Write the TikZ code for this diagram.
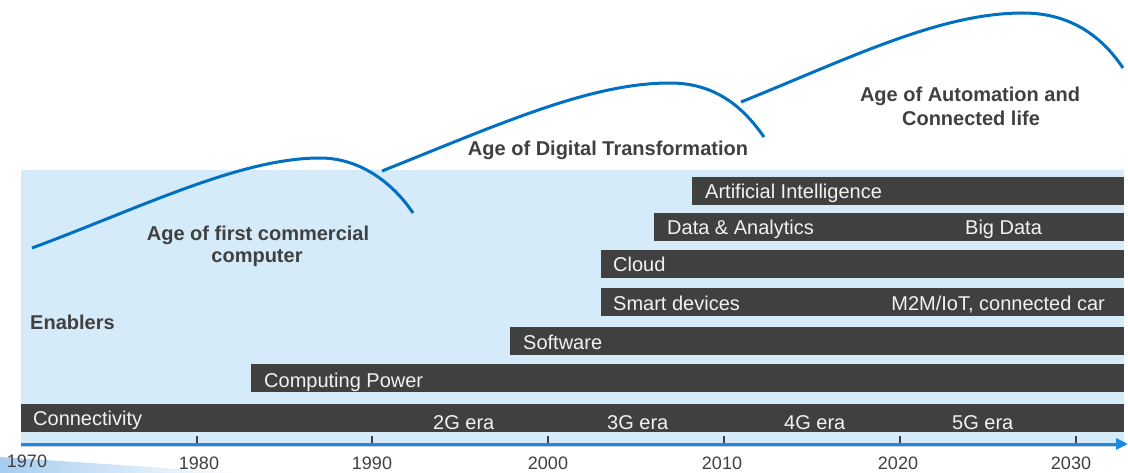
\documentclass[tikz,border=0pt]{standalone}
\usepackage{fontspec}
\setmainfont{Liberation Sans}
\usetikzlibrary{arrows.meta}
\definecolor{panelc}{HTML}{D5EBFA}
\definecolor{barc}{HTML}{404040}
\definecolor{bartxt}{HTML}{F2F2F2}
\definecolor{lblc}{HTML}{404040}
\definecolor{curvec}{HTML}{0070C0}
\definecolor{axisc}{HTML}{1A8AE0}
\definecolor{wedgec}{HTML}{A6CDF0}
\begin{document}
\begin{tikzpicture}[x=1pt,y=-1pt,
  bar/.style={fill=barc, draw=none, minimum height=28pt, inner sep=0pt, outer sep=0pt, anchor=north west},
  bartext/.style={text=bartxt, font=\fontsize{20}{24}\selectfont, anchor=base west, inner sep=0pt},
  agelabel/.style={text=lblc, font=\bfseries\fontsize{20}{24}\selectfont, anchor=base, inner sep=0pt},
  yearlabel/.style={text=lblc, font=\fontsize{18}{22}\selectfont, anchor=base, inner sep=0pt},
  agecurve/.style={draw=curvec, line width=3pt},
  tickmark/.style={draw=barc, line width=1.5pt},
  axisline/.style={draw=axisc, line width=3pt, -{Triangle[length=12pt,width=11pt]}}]
\useasboundingbox (0,0) rectangle (1128,473);

% fading wedge under the time axis
\shade[left color=wedgec, right color=white] (0,457) -- (240,473) -- (0,473) -- cycle;

% light blue enablers panel
\fill[panelc] (21,170) rectangle (1124,443);

% enabler bars
\node[bar, minimum width=1103pt] (conn) at (21,404) {};
\node[bar, minimum width=873pt] (comp) at (251,364) {};
\node[bar, minimum width=614pt] (soft) at (510,327) {};
\node[bar, minimum width=523pt] (smart) at (601,288) {};
\node[bar, minimum width=523pt] (cloud) at (601,250) {};
\node[bar, minimum width=470pt] (data) at (654,213) {};
\node[bar, minimum width=432pt] (ai) at (692,177) {};

% bar labels
\node[bartext] (tconn) at (33,425) {Connectivity};
\node[bartext] (t2g) at (433,429) {2G era};
\node[bartext] (t3g) at (607,429) {3G era};
\node[bartext] (t4g) at (784,429) {4G era};
\node[bartext] (t5g) at (952,429) {5G era};
\node[bartext] (tcomp) at (264,387) {Computing Power};
\node[bartext] (tsoft) at (523,349) {Software};
\node[bartext] (tsmart) at (613,310) {Smart devices};
\node[bartext, anchor=base east] (tm2m) at (1105,310) {M2M/IoT, connected car};
\node[bartext] (tcloud) at (613,272) {Cloud};
\node[bartext] (tdata) at (667,235) {Data \& Analytics};
\node[bartext] (tbig) at (965,235) {Big Data};
\node[bartext] (tai) at (705,199) {Artificial Intelligence};

\node[agelabel, anchor=base west] (enab) at (30,330) {Enablers};

% time axis
\draw[draw=black!20, line width=1pt] (21,446.5) -- (1120,446.5);
\coordinate (ax0) at (21,444);
\coordinate (ax1) at (1128,444);
\draw[axisline] (ax0) -- (ax1);
\foreach \px in {197,372,548,724,900,1076}
  \draw[tickmark] (\px,436) -- (\px,443);

% years
\node[yearlabel] (y1970) at (27,467) {1970};
\node[yearlabel] (y1980) at (199,469) {1980};
\node[yearlabel] (y1990) at (372,469.5) {1990};
\node[yearlabel] (y2000) at (548,469.5) {2000};
\node[yearlabel] (y2010) at (722,469.5) {2010};
\node[yearlabel] (y2020) at (898,469.5) {2020};
\node[yearlabel] (y2030) at (1071,469.5) {2030};

% age curves
\coordinate (c1s) at (32,248);
\coordinate (c1p) at (320,158);
\coordinate (c1e) at (413,213);
\draw[agecurve] (c1s) .. controls (140,208) and (240,158) .. (c1p)
  .. controls (360,158) and (393,183) .. (c1e);
\coordinate (c2s) at (382,171);
\coordinate (c2p) at (670,83);
\coordinate (c2e) at (764,137);
\draw[agecurve] (c2s) .. controls (500,124) and (590,83) .. (c2p)
  .. controls (718,83) and (745,110) .. (c2e);
\coordinate (c3s) at (741,102);
\coordinate (c3p) at (1023,13);
\coordinate (c3e) at (1123,68);
\draw[agecurve] (c3s) .. controls (850,58) and (940,13) .. (c3p)
  .. controls (1072,13) and (1103,38) .. (c3e);

% age labels
\node[agelabel] (a1a) at (258,241) {Age of first commercial};
\node[agelabel] (a1b) at (257,263) {computer};
\node[agelabel] (a2) at (608,156) {Age of Digital Transformation};
\node[agelabel] (a3a) at (970,102) {Age of Automation and};
\node[agelabel] (a3b) at (971,126) {Connected life};
\end{tikzpicture}
\end{document}
